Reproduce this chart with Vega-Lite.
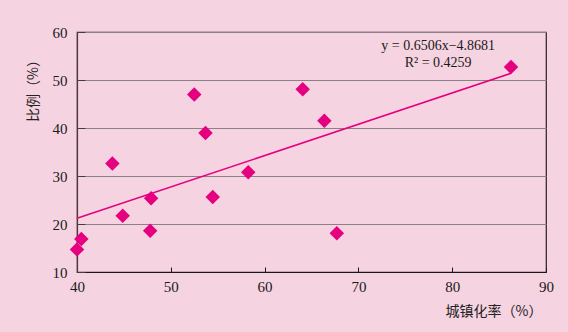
{
  "$schema": "https://vega.github.io/schema/vega-lite/v6.json",
  "width": 469,
  "height": 240,
  "autosize": "none",
  "padding": {"left": 77, "top": 32, "right": 22, "bottom": 60},
  "background": "#f6d3e0",
  "config": {
    "view": {"stroke": "#2a2024", "strokeWidth": 1.2},
    "font": "Liberation Serif"
  },
  "datasets": {
    "pts": [
      {"x": 40.0, "y": 14.7},
      {"x": 40.46, "y": 16.9},
      {"x": 44.87, "y": 21.7},
      {"x": 47.9, "y": 25.35},
      {"x": 47.8, "y": 18.6},
      {"x": 54.47, "y": 25.6},
      {"x": 43.77, "y": 32.6},
      {"x": 52.5, "y": 47.0},
      {"x": 53.7, "y": 38.96},
      {"x": 58.26, "y": 30.77},
      {"x": 64.06, "y": 48.06},
      {"x": 66.37, "y": 41.5},
      {"x": 67.7, "y": 18.06},
      {"x": 86.27, "y": 52.7}
    ],
    "notes": [
      {"x": 78.5, "y": 57.1, "t": "y = 0.6506x−4.8681"},
      {"x": 78.5, "y": 53.5, "t": "R² = 0.4259"}
    ]
  },
  "layer": [
    {
      "data": {"name": "pts"},
      "transform": [{"regression": "y", "on": "x"}],
      "mark": {"type": "line", "color": "#e5007f", "strokeWidth": 1.6},
      "encoding": {
        "x": {
          "field": "x", "type": "quantitative",
          "scale": {"domain": [40, 90], "nice": false, "zero": false},
          "axis": {
            "values": [40, 50, 60, 70, 80, 90],
            "grid": false,
            "labelFlush": false,
            "domainColor": "#1a1a1a",
            "domainWidth": 1.2,
            "tickColor": "#1a1a1a",
            "tickSize": -5,
            "labelPadding": 12,
            "labelFontSize": 15,
            "labelColor": "#1a1a1a",
            "labelFont": "Liberation Serif",
            "title": "城镇化率（%）",
            "titleFont": "Noto Sans CJK SC",
            "titleFontSize": 14,
            "titleFontWeight": "normal",
            "titleColor": "#222222",
            "titleAnchor": "end",
            "titleX": 465,
            "titleAlign": "right",
            "titlePadding": 10
          }
        },
        "y": {
          "field": "y", "type": "quantitative",
          "scale": {"domain": [10, 60], "nice": false, "zero": false},
          "axis": {
            "values": [10, 20, 30, 40, 50, 60],
            "grid": true,
            "labelFlush": false,
            "gridColor": "#8d8189",
            "gridWidth": 1.2,
            "domainColor": "#4a3a42",
            "domainWidth": 1.2,
            "tickColor": "#4a3a42",
            "tickSize": -8,
            "labelPadding": 18,
            "labelFontSize": 15,
            "labelColor": "#1a1a1a",
            "labelFont": "Liberation Serif",
            "title": "比例（%）",
            "titleFont": "Noto Sans CJK SC",
            "titleFontSize": 14,
            "titleFontWeight": "normal",
            "titleColor": "#222222",
            "titleX": -44,
            "titleY": 55,
            "titleAlign": "center",
            "titleBaseline": "middle"
          }
        }
      }
    },
    {
      "data": {"name": "pts"},
      "mark": {"type": "point", "shape": "diamond", "filled": true, "size": 210, "color": "#e5007f", "opacity": 1},
      "encoding": {
        "x": {"field": "x", "type": "quantitative"},
        "y": {"field": "y", "type": "quantitative"}
      }
    },
    {
      "data": {"name": "notes"},
      "mark": {"type": "text", "font": "Liberation Serif", "fontSize": 14, "color": "#1a1a1a", "align": "center", "baseline": "middle"},
      "encoding": {
        "x": {"field": "x", "type": "quantitative"},
        "y": {"field": "y", "type": "quantitative"},
        "text": {"field": "t"}
      }
    }
  ]
}
